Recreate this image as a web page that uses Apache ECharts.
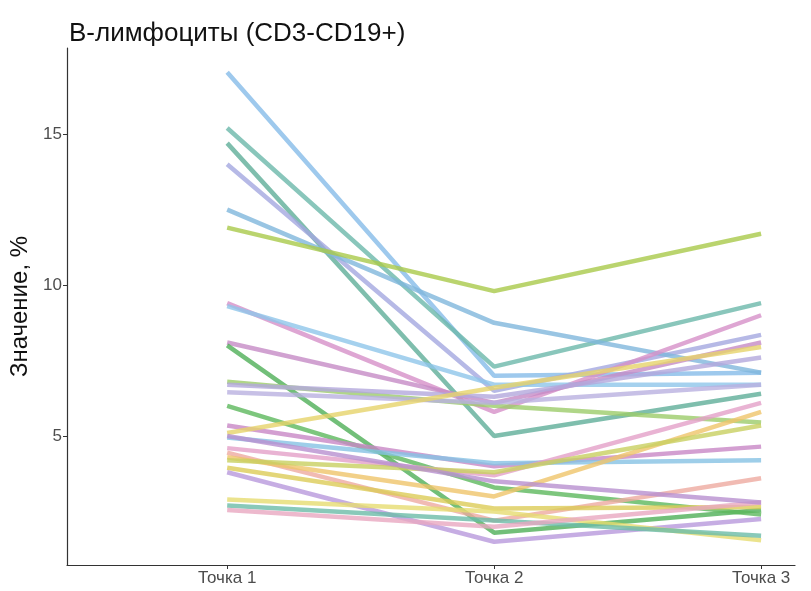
<!DOCTYPE html>
<html><head><meta charset="utf-8">
<script src="https://cdn.jsdelivr.net/npm/echarts@6/dist/echarts.min.js"></script>
<style>html,body{margin:0;padding:0;background:#fff}#c{width:811px;height:591px}</style>
</head><body><div id="c"></div>
<script>
const categories = ['Точка 1', 'Точка 2', 'Точка 3'];
const yTicks = [5, 10, 15];
const point1 = [17.05, 15.2, 14.7, 14.0, 12.5, 11.9, 9.4, 9.3, 8.1, 8.0, 6.8, 6.7, 6.45, 6.0, 5.35, 5.1, 4.95, 4.6, 4.45, 4.3, 3.95, 3.8, 2.9, 2.7, 2.55, 4.2, 5.0];
const point2 = [7.0, 7.3, 5.0, 6.5, 8.75, 9.8, 5.8, 6.7, 6.1, 1.8, 6.0, 6.3, 6.1, 3.3, 4.0, 6.6, 4.1, 3.7, 2.2, 3.0, 2.6, 1.5, 2.5, 2.2, 2.0, 3.8, 3.5];
const point3 = [7.1, 9.4, 6.4, 8.35, 7.1, 11.7, 9.0, 6.7, 8.1, 2.55, 5.45, 7.6, 6.7, 2.4, 4.65, 7.95, 4.2, 6.1, 3.6, 5.8, 2.65, 2.25, 1.55, 1.7, 2.8, 5.35, 2.8];
const lineColors = ['#86bce8','#6cb8aa','#5fae98','#a4a8e0','#7fb6dc','#a9c94a','#d690c8','#8ec6ea','#c58bc6','#4faf57','#9ccc6a','#b3a8dc','#b9b0e0','#5cb85c','#c887c6','#e6d36a','#86c2e4','#e4a0c8','#eeaaa0','#efc46a','#dccc58','#b898dc','#e6dc70','#6cbca8','#e8a8c0','#c8d060','#b890d0'];

const series = point1.map((v, i) => ({
  type: 'line',
  data: [[1, point1[i]], [2, point2[i]], [3, point3[i]]],
  symbol: 'none',
  silent: true,
  lineStyle: { color: lineColors[i], width: 4.5, opacity: 0.8 },
  animation: false
}));

const chart = echarts.init(document.getElementById('c'), null, { renderer: 'canvas' });
chart.setOption({
  backgroundColor: '#ffffff',
  animation: false,
  title: {
    text: 'В-лимфоциты (CD3-CD19+)',
    left: 64, top: 16,
    textStyle: { fontFamily: 'Liberation Sans', fontSize: 26, fontWeight: 'normal', color: '#111' }
  },
  grid: { left: 67, right: 16, top: 48, bottom: 26, containLabel: false, outerBoundsMode: 'none' },
  xAxis: {
    type: 'value', min: 0.4, max: 3.127,
    splitLine: { show: false },
    axisLine: { show: true, lineStyle: { color: '#333', width: 1.2 } },
    axisTick: { show: true, customValues: [1, 2, 3], length: 4, lineStyle: { color: '#333' } },
    axisLabel: {
      customValues: [1, 2, 3],
      formatter: v => categories[Math.round(v) - 1] || '',
      color: '#4d4d4d', fontFamily: 'Liberation Sans', fontSize: 17, margin: 5
    }
  },
  yAxis: {
    type: 'value', min: 0.73, max: 17.85,
    name: 'Значение, %', nameLocation: 'middle', nameGap: 33,
    nameTextStyle: { fontFamily: 'Liberation Sans', fontSize: 24, color: '#111' },
    splitLine: { show: false },
    axisLine: { show: true, lineStyle: { color: '#333', width: 1.2 } },
    axisTick: { show: true, customValues: yTicks, length: 4, lineStyle: { color: '#333' } },
    axisLabel: {
      customValues: yTicks,
      color: '#4d4d4d', fontFamily: 'Liberation Sans', fontSize: 17, margin: 5
    }
  },
  series: series
});
</script></body></html>
